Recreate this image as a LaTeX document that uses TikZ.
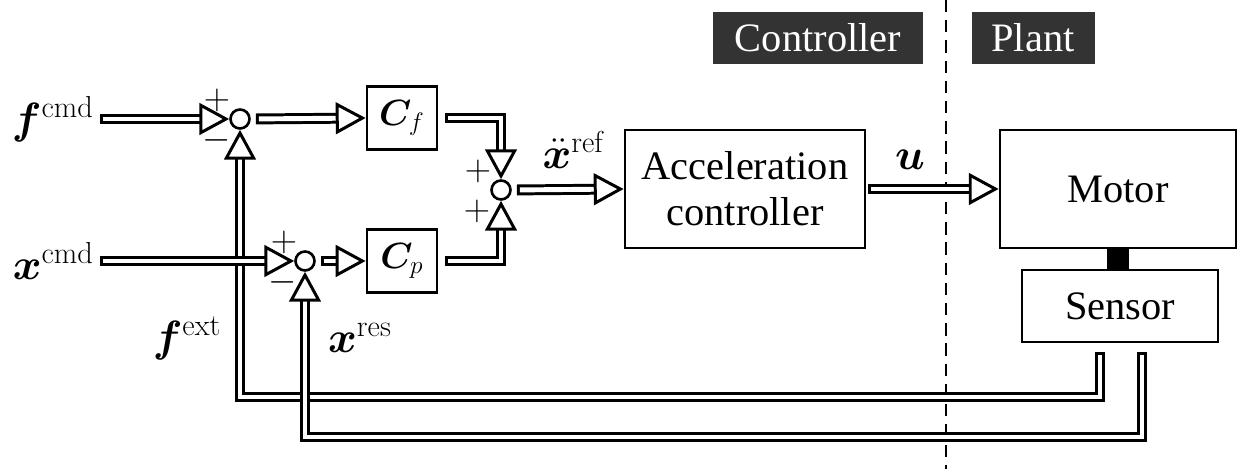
\documentclass[tikz,border=0pt]{standalone}
\usepackage{amsmath}
\usepackage[no-math]{fontspec}
\setmainfont{Liberation Serif}
\usepackage{bm}
\usetikzlibrary{arrows.meta, positioning, calc}
\tikzset{
  block/.style={draw=black, rectangle, align=center, line width=1.6pt, fill=white, font=\fontsize{23}{26}\selectfont},
  sumnode/.style={draw=black, circle, line width=1.5pt, minimum size=0.38cm, inner sep=0pt, fill=white},
  sigarrow/.style={double, double distance=2.8pt, line width=1.7pt, line cap=rect, shorten <=6pt,
    -{Triangle[open, fill=white, length=17pt, width=18pt, line width=1.7pt]}},
  tag/.style={fill=black!80, text=white, minimum height=1.04cm, font=\fontsize{23}{26}\selectfont},
  sign/.style={font=\fontsize{20}{20}\selectfont, inner sep=0pt},
  lbl/.style={font=\fontsize{23}{26}\selectfont}
}

\begin{document}
\begin{tikzpicture}[x=0.02cm, y=-0.02cm]
\useasboundingbox (0,0) rectangle (1241,469);

% summing points and blocks
\node[sumnode] (s1) at (240,119) {};
\node[sumnode] (s2) at (305,261) {};
\node[sumnode] (s3) at (501,190) {};
\node[block, minimum width=1.4cm, minimum height=1.26cm, font=\fontsize{21}{24}\selectfont] (cf) at (402,118) {$\bm{C}_f$};
\node[block, minimum width=1.4cm, minimum height=1.26cm, font=\fontsize{21}{24}\selectfont] (cp) at (402,261) {$\bm{C}_p$};
\node[block, minimum width=4.8cm, minimum height=2.36cm] (acc) at (745,189) {Acceleration\\controller};
\node[block, minimum width=4.72cm, minimum height=2.36cm] (motor) at (1118,189) {Motor};
\node[block, minimum width=3.92cm, minimum height=1.44cm] (sensor) at (1120,306) {Sensor};

% controller / plant split
\node[tag, minimum width=4.2cm] (ctrl) at (818,38) {Controller};
\node[tag, minimum width=2.46cm] (plant) at (1033,38) {Plant};
\coordinate (divtop) at (946,0);
\coordinate (divbot) at (946,469);
\draw[line width=1.5pt, dash pattern=on 7pt off 4.5pt] (divtop) -- (divbot);

% labels
\node[lbl, anchor=east] (fcmd) at (100,119) {$\bm{f}^{\mathrm{cmd}}$};
\node[lbl, anchor=east] (xcmd) at (100,261) {$\bm{x}^{\mathrm{cmd}}$};
\node[lbl] (fext) at (187,338) {$\bm{f}^{\mathrm{ext}}$};
\node[lbl] (xres) at (360,338) {$\bm{x}^{\mathrm{res}}$};
\node[lbl, inner sep=1pt] (xref) at (574,150) {$\ddot{\bm{x}}^{\mathrm{ref}}$};
\node[lbl] (uin) at (910,160) {$\bm{u}$};

\node[sign] at (217,100) {$+$};
\node[sign] at (217,140) {$-$};
\node[sign] at (284,242) {$+$};
\node[sign] at (283,282) {$-$};
\node[sign] at (478,171) {$+$};
\node[sign] at (477,211) {$+$};

% feedback from sensor
\coordinate (fbf) at (1100,357);
\coordinate (fbx) at (1142,357);
\draw[sigarrow, shorten <=0pt] (fbf) -- ++(0,40) -| (s1.south);
\draw[sigarrow, shorten <=0pt] (fbx) -- ++(0,80) -| (s2.south);

% forward path
\draw[sigarrow, shorten <=3pt] (fcmd.east) -- (s1.west);
\draw[sigarrow, shorten <=3pt] (xcmd.east) -- (s2.west);
\draw[sigarrow] (s1.east) -- (cf.west);
\draw[sigarrow] (s2.east) -- (cp.west);
\draw[sigarrow, shorten <=7pt] (cf.east) -| (s3.north);
\draw[sigarrow, shorten <=7pt] (cp.east) -| (s3.south);
\draw[sigarrow] (s3.east) -- (acc.west);
\draw[sigarrow, shorten <=4pt] (acc.east) -- (motor.west);

% motor-sensor link
\draw[line width=13pt] (motor.south) -- (motor.south |- sensor.north);

\end{tikzpicture}
\end{document}
